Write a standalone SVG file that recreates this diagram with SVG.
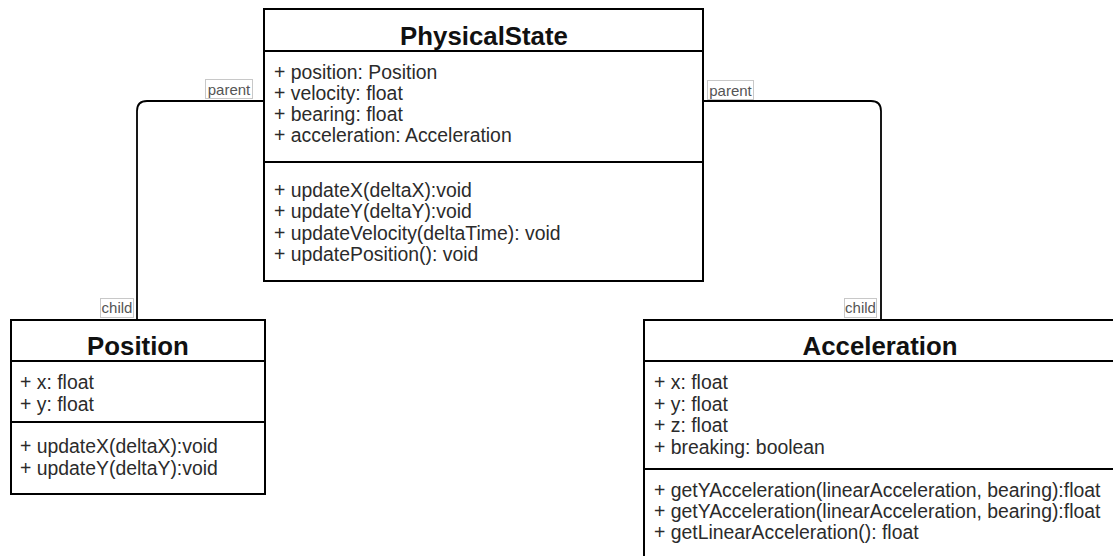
<svg xmlns="http://www.w3.org/2000/svg" width="1113" height="556" viewBox="0 0 1113 556">
<style>
.box{fill:#ffffff;stroke:#000000;stroke-width:2}
.div{stroke:#000000;stroke-width:2}
.title{font-family:"Liberation Sans",Arial,sans-serif;font-weight:bold;font-size:25.8px;fill:#111;text-anchor:middle}
.m{font-family:"Liberation Sans",Arial,sans-serif;font-size:19.4px;fill:#2b2b2b}
.edge{fill:none;stroke:#000000;stroke-width:1.8}
.lblbox{fill:#ffffff;stroke:#c8c8c8;stroke-width:1}
.lbl{font-family:"Liberation Sans",Arial,sans-serif;font-size:15px;fill:#555;text-anchor:middle}
</style>
<rect width="1113" height="556" fill="#ffffff"/>
<g id="connectors">
  <path class="edge" d="M264,101 H147 Q137,101 137,111 V320"/>
  <path class="edge" d="M703,101 H871 Q881,101 881,111 V320"/>
  <rect class="lblbox" x="205.5" y="79.5" width="47" height="19"/>
  <text class="lbl" x="229" y="94.5">parent</text>
  <rect class="lblbox" x="707.5" y="80.5" width="46" height="19"/>
  <text class="lbl" x="730.5" y="95.5">parent</text>
  <rect class="lblbox" x="100.5" y="298.5" width="33" height="19"/>
  <text class="lbl" x="117" y="313">child</text>
  <rect class="lblbox" x="844.5" y="298.5" width="32" height="19"/>
  <text class="lbl" x="860.5" y="313">child</text>
</g>
<g id="PhysicalState">
  <rect class="box" x="264" y="9" width="439" height="272"/>
  <line class="div" x1="264" y1="51" x2="703" y2="51"/>
  <line class="div" x1="264" y1="162" x2="703" y2="162"/>
  <text class="title" x="484" y="45">PhysicalState</text>
  <text class="m" x="274" y="79">+ position: Position</text>
  <text class="m" x="274" y="100">+ velocity: float</text>
  <text class="m" x="274" y="121">+ bearing: float</text>
  <text class="m" x="274" y="142">+ acceleration: Acceleration</text>
  <text class="m" x="274" y="197">+ updateX(deltaX):void</text>
  <text class="m" x="274" y="218">+ updateY(deltaY):void</text>
  <text class="m" x="274" y="239.5">+ updateVelocity(deltaTime): void</text>
  <text class="m" x="274" y="260.5">+ updatePosition(): void</text>
</g>
<g id="Position">
  <rect class="box" x="11" y="320" width="254" height="174"/>
  <line class="div" x1="11" y1="361" x2="265" y2="361"/>
  <line class="div" x1="11" y1="422" x2="265" y2="422"/>
  <text class="title" x="138" y="355">Position</text>
  <text class="m" x="20" y="389">+ x: float</text>
  <text class="m" x="20" y="410.5">+ y: float</text>
  <text class="m" x="20" y="453">+ updateX(deltaX):void</text>
  <text class="m" x="20" y="474.5">+ updateY(deltaY):void</text>
</g>
<g id="Acceleration">
  <rect class="box" x="644" y="320" width="472" height="260"/>
  <line class="div" x1="644" y1="361" x2="1116" y2="361"/>
  <line class="div" x1="644" y1="469" x2="1116" y2="469"/>
  <text class="title" x="880" y="355">Acceleration</text>
  <text class="m" x="654" y="389">+ x: float</text>
  <text class="m" x="654" y="410.5">+ y: float</text>
  <text class="m" x="654" y="432">+ z: float</text>
  <text class="m" x="654" y="454">+ breaking: boolean</text>
  <text class="m" x="654" y="497">+ getYAcceleration(linearAcceleration, bearing):float</text>
  <text class="m" x="654" y="518">+ getYAcceleration(linearAcceleration, bearing):float</text>
  <text class="m" x="654" y="539">+ getLinearAcceleration(): float</text>
</g>
</svg>
